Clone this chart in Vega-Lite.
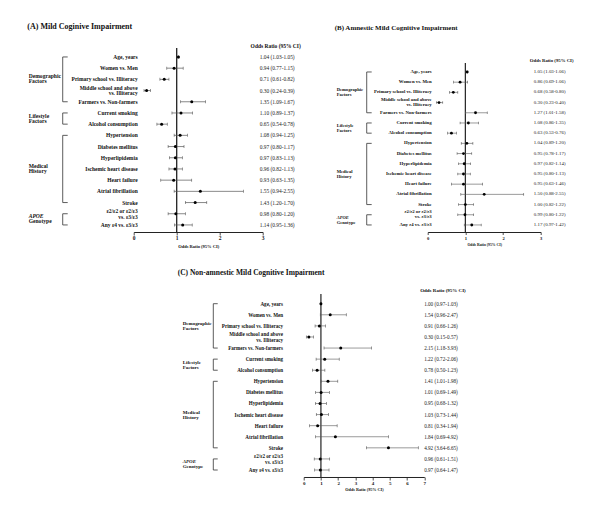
{
"$schema": "https://vega.github.io/schema/vega-lite/v6.json",
"background": "white",
"autosize": {"type": "pad"},
"padding": {"left": 26.7, "top": 22, "right": 5, "bottom": 5},
"columns": 5,
"spacing": {"row": 62, "column": 0},
"bounds": "flush",
"align": "each",
"config": {"view": {"stroke": null}, "text": {"font": "Liberation Serif", "color": "#111"}},
"datasets": {
"groups": [
{"g1": "Demographic", "g2": "Factors", "start": 1, "end": 5, "mid": 3, "it": false},
{"g1": "Lifestyle", "g2": "Factors", "start": 6, "end": 7, "mid": 6.5, "it": false},
{"g1": "Medical", "g2": "History", "start": 8, "end": 14, "mid": 11, "it": false},
{"g1": "APOE", "g2": "Genotype", "start": 15, "end": 16, "mid": 15.5, "it": true}
],
"A": [
{"row": 1, "label": "Age, years", "or": 1.04, "lo": 1.03, "hi": 1.05, "ci": "1.04 (1.03-1.05)"},
{"row": 2, "label": "Women vs. Men", "or": 0.94, "lo": 0.77, "hi": 1.15, "ci": "0.94 (0.77-1.15)"},
{"row": 3, "label": "Primary school vs. Illiteracy", "or": 0.71, "lo": 0.61, "hi": 0.82, "ci": "0.71 (0.61-0.82)"},
{"row": 4, "label": "Middle school and above|vs. Illiteracy", "or": 0.30, "lo": 0.24, "hi": 0.39, "ci": "0.30 (0.24-0.39)"},
{"row": 5, "label": "Farmers vs. Non-farmers", "or": 1.35, "lo": 1.09, "hi": 1.67, "ci": "1.35 (1.09-1.67)"},
{"row": 6, "label": "Current smoking", "or": 1.10, "lo": 0.89, "hi": 1.37, "ci": "1.10 (0.89-1.37)"},
{"row": 7, "label": "Alcohol consumption", "or": 0.65, "lo": 0.54, "hi": 0.78, "ci": "0.65 (0.54-0.78)"},
{"row": 8, "label": "Hypertension", "or": 1.08, "lo": 0.94, "hi": 1.25, "ci": "1.08 (0.94-1.25)"},
{"row": 9, "label": "Diabetes mellitus", "or": 0.97, "lo": 0.80, "hi": 1.17, "ci": "0.97 (0.80-1.17)"},
{"row": 10, "label": "Hyperlipidemia", "or": 0.97, "lo": 0.83, "hi": 1.13, "ci": "0.97 (0.83-1.13)"},
{"row": 11, "label": "Ischemic heart disease", "or": 0.96, "lo": 0.82, "hi": 1.13, "ci": "0.96 (0.82-1.13)"},
{"row": 12, "label": "Heart failure", "or": 0.93, "lo": 0.63, "hi": 1.35, "ci": "0.93 (0.63-1.35)"},
{"row": 13, "label": "Atrial fibrillation", "or": 1.55, "lo": 0.94, "hi": 2.55, "ci": "1.55 (0.94-2.55)"},
{"row": 14, "label": "Stroke", "or": 1.43, "lo": 1.20, "hi": 1.70, "ci": "1.43 (1.20-1.70)"},
{"row": 15, "label": "ε2/ε2 or ε2/ε3|vs. ε3/ε3", "or": 0.98, "lo": 0.80, "hi": 1.20, "ci": "0.98 (0.80-1.20)"},
{"row": 16, "label": "Any ε4 vs. ε3/ε3", "or": 1.14, "lo": 0.95, "hi": 1.36, "ci": "1.14 (0.95-1.36)"}
],
"B": [
{"row": 1, "label": "Age, years", "or": 1.05, "lo": 1.03, "hi": 1.06, "ci": "1.05 (1.03-1.06)"},
{"row": 2, "label": "Women vs. Men", "or": 0.86, "lo": 0.69, "hi": 1.06, "ci": "0.86 (0.69-1.06)"},
{"row": 3, "label": "Primary school vs. Illiteracy", "or": 0.68, "lo": 0.58, "hi": 0.80, "ci": "0.68 (0.58-0.80)"},
{"row": 4, "label": "Middle school and above|vs. Illiteracy", "or": 0.30, "lo": 0.23, "hi": 0.40, "ci": "0.30 (0.23-0.40)"},
{"row": 5, "label": "Farmers vs. Non-farmers", "or": 1.27, "lo": 1.01, "hi": 1.58, "ci": "1.27 (1.01-1.58)"},
{"row": 6, "label": "Current smoking", "or": 1.08, "lo": 0.86, "hi": 1.35, "ci": "1.08 (0.86-1.35)"},
{"row": 7, "label": "Alcohol consumption", "or": 0.63, "lo": 0.53, "hi": 0.76, "ci": "0.63 (0.53-0.76)"},
{"row": 8, "label": "Hypertension", "or": 1.04, "lo": 0.89, "hi": 1.20, "ci": "1.04 (0.89-1.20)"},
{"row": 9, "label": "Diabetes mellitus", "or": 0.95, "lo": 0.78, "hi": 1.17, "ci": "0.95 (0.78-1.17)"},
{"row": 10, "label": "Hyperlipidemia", "or": 0.97, "lo": 0.82, "hi": 1.14, "ci": "0.97 (0.82-1.14)"},
{"row": 11, "label": "Ischemic heart disease", "or": 0.95, "lo": 0.80, "hi": 1.13, "ci": "0.95 (0.80-1.13)"},
{"row": 12, "label": "Heart failure", "or": 0.95, "lo": 0.63, "hi": 1.46, "ci": "0.95 (0.63-1.46)"},
{"row": 13, "label": "Atrial fibrillation", "or": 1.50, "lo": 0.88, "hi": 2.55, "ci": "1.50 (0.88-2.55)"},
{"row": 14, "label": "Stroke", "or": 1.00, "lo": 0.82, "hi": 1.22, "ci": "1.00 (0.82-1.22)"},
{"row": 15, "label": "ε2/ε2 or ε2/ε3|vs. ε3/ε3", "or": 0.99, "lo": 0.80, "hi": 1.22, "ci": "0.99 (0.80-1.22)"},
{"row": 16, "label": "Any ε4 vs. ε3/ε3", "or": 1.17, "lo": 0.97, "hi": 1.42, "ci": "1.17 (0.97-1.42)"}
],
"C": [
{"row": 1, "label": "Age, years", "or": 1.00, "lo": 0.97, "hi": 1.03, "ci": "1.00 (0.97-1.03)"},
{"row": 2, "label": "Women vs. Men", "or": 1.54, "lo": 0.96, "hi": 2.47, "ci": "1.54 (0.96-2.47)"},
{"row": 3, "label": "Primary school vs. Illiteracy", "or": 0.91, "lo": 0.66, "hi": 1.26, "ci": "0.91 (0.66-1.26)"},
{"row": 4, "label": "Middle school and above|vs. Illiteracy", "or": 0.30, "lo": 0.15, "hi": 0.57, "ci": "0.30 (0.15-0.57)"},
{"row": 5, "label": "Farmers vs. Non-farmers", "or": 2.15, "lo": 1.18, "hi": 3.93, "ci": "2.15 (1.18-3.93)"},
{"row": 6, "label": "Current smoking", "or": 1.22, "lo": 0.72, "hi": 2.06, "ci": "1.22 (0.72-2.06)"},
{"row": 7, "label": "Alcohol consumption", "or": 0.78, "lo": 0.50, "hi": 1.23, "ci": "0.78 (0.50-1.23)"},
{"row": 8, "label": "Hypertension", "or": 1.41, "lo": 1.01, "hi": 1.98, "ci": "1.41 (1.01-1.98)"},
{"row": 9, "label": "Diabetes mellitus", "or": 1.01, "lo": 0.69, "hi": 1.49, "ci": "1.01 (0.69-1.49)"},
{"row": 10, "label": "Hyperlipidemia", "or": 0.95, "lo": 0.68, "hi": 1.32, "ci": "0.95 (0.68-1.32)"},
{"row": 11, "label": "Ischemic heart disease", "or": 1.03, "lo": 0.73, "hi": 1.44, "ci": "1.03 (0.73-1.44)"},
{"row": 12, "label": "Heart failure", "or": 0.81, "lo": 0.34, "hi": 1.94, "ci": "0.81 (0.34-1.94)"},
{"row": 13, "label": "Atrial fibrillation", "or": 1.84, "lo": 0.69, "hi": 4.92, "ci": "1.84 (0.69-4.92)"},
{"row": 14, "label": "Stroke", "or": 4.92, "lo": 3.64, "hi": 6.65, "ci": "4.92 (3.64-6.65)"},
{"row": 15, "label": "ε2/ε2 or ε2/ε3|vs. ε3/ε3", "or": 0.96, "lo": 0.61, "hi": 1.51, "ci": "0.96 (0.61-1.51)"},
{"row": 16, "label": "Any ε4 vs. ε3/ε3", "or": 0.97, "lo": 0.64, "hi": 1.47, "ci": "0.97 (0.64-1.47)"}
]
},
"concat": [
{
"width": 129, "height": 184,
"encoding": {
 "x": {"type": "quantitative", "scale": {"domain": [0, 3], "nice": false, "zero": false},
  "axis": {"values": [0, 1, 2, 3], "title": "Odds Ratio (95% CI)", "grid": false, "domainColor": "#222", "domainWidth": 1, "tickColor": "#222", "tickSize": 3, "tickWidth": 0.8, "labelFont": "Liberation Serif", "labelFontWeight": "bold", "labelFontSize": 5.5, "labelPadding": 0.5, "labelColor": "#111", "labelFlush": false, "titleFont": "Liberation Serif", "titleFontWeight": "bold", "titleFontSize": 4.5, "titlePadding": 2.5, "titleColor": "#111"}},
 "y": {"type": "quantitative", "scale": {"domain": [0.2, 16.63], "reverse": true, "nice": false, "zero": false}, "axis": null}
},
"layer": [
{"data": {"values": [{}]}, "mark": {"type": "rule", "color": "#222", "strokeWidth": 1.3},
 "encoding": {"x": {"datum": 1, "type": "quantitative"}, "y": {"datum": 0.2, "type": "quantitative"}, "y2": {"datum": 16.63}}},
{"data": {"name": "A"}, "mark": {"type": "rule", "color": "#555", "strokeWidth": 0.7},
 "encoding": {"x": {"field": "lo", "type": "quantitative"}, "x2": {"field": "hi"}, "y": {"field": "row", "type": "quantitative"}}},
{"data": {"name": "A"}, "mark": {"type": "tick", "orient": "vertical", "size": 3, "thickness": 0.6, "color": "#555", "opacity": 1},
 "encoding": {"x": {"field": "lo", "type": "quantitative"}, "y": {"field": "row", "type": "quantitative"}}},
{"data": {"name": "A"}, "mark": {"type": "tick", "orient": "vertical", "size": 3, "thickness": 0.6, "color": "#555", "opacity": 1},
 "encoding": {"x": {"field": "hi", "type": "quantitative"}, "y": {"field": "row", "type": "quantitative"}}},
{"data": {"name": "A"}, "mark": {"type": "circle", "color": "#000", "size": 9, "opacity": 1},
 "encoding": {"x": {"field": "or", "type": "quantitative"}, "y": {"field": "row", "type": "quantitative"}}},
{"data": {"name": "groups"}, "mark": {"type": "rule", "color": "#333", "strokeWidth": 0.8},
 "encoding": {"x": {"datum": -1.651, "type": "quantitative"}, "y": {"field": "start", "type": "quantitative"}, "y2": {"field": "end"}}},
{"data": {"name": "groups"}, "mark": {"type": "rule", "color": "#333", "strokeWidth": 0.8},
 "encoding": {"x": {"datum": -1.651, "type": "quantitative"}, "x2": {"datum": -1.535}, "y": {"field": "start", "type": "quantitative"}}},
{"data": {"name": "groups"}, "mark": {"type": "rule", "color": "#333", "strokeWidth": 0.8},
 "encoding": {"x": {"datum": -1.651, "type": "quantitative"}, "x2": {"datum": -1.535}, "y": {"field": "end", "type": "quantitative"}}},
{"data": {"name": "groups"}, "transform": [{"filter": "!datum.it"}], "mark": {"type": "text", "align": "left", "baseline": "bottom", "fontWeight": "bold", "fontSize": 5.6},
 "encoding": {"x": {"datum": -2.442, "type": "quantitative"}, "y": {"field": "mid", "type": "quantitative"}, "text": {"field": "g1"}}},
{"data": {"name": "groups"}, "transform": [{"filter": "datum.it"}], "mark": {"type": "text", "align": "left", "baseline": "bottom", "fontWeight": "bold", "fontStyle": "italic", "fontSize": 5.6},
 "encoding": {"x": {"datum": -2.442, "type": "quantitative"}, "y": {"field": "mid", "type": "quantitative"}, "text": {"field": "g1"}}},
{"data": {"name": "groups"}, "mark": {"type": "text", "align": "left", "baseline": "top", "fontWeight": "bold", "fontSize": 5.6},
 "encoding": {"x": {"datum": -2.442, "type": "quantitative"}, "y": {"field": "mid", "type": "quantitative"}, "text": {"field": "g2"}}},
{"data": {"name": "A"}, "transform": [{"filter": "indexof(datum.label, '|') < 0"}], "mark": {"type": "text", "align": "right", "baseline": "middle", "fontWeight": "bold", "fontSize": 5.5},
 "encoding": {"x": {"datum": 0.093, "type": "quantitative"}, "y": {"field": "row", "type": "quantitative"}, "text": {"field": "label"}}},
{"data": {"name": "A"}, "transform": [{"filter": "indexof(datum.label, '|') >= 0"}], "mark": {"type": "text", "align": "right", "baseline": "middle", "fontWeight": "bold", "fontSize": 5.5, "lineBreak": "|", "lineHeight": 5.8, "dy": -2.9},
 "encoding": {"x": {"datum": 0.093, "type": "quantitative"}, "y": {"field": "row", "type": "quantitative"}, "text": {"field": "label"}}},
{"data": {"values": [{"t": "(A)  Mild Coginive Impairment"}]}, "mark": {"type": "text", "align": "left", "baseline": "middle", "fontWeight": "bold", "fontSize": 8},
 "encoding": {"x": {"datum": -2.474, "type": "quantitative"}, "y": {"datum": -1.68, "type": "quantitative"}, "text": {"field": "t"}}},
{"data": {"name": "A"}, "mark": {"type": "text", "align": "center", "baseline": "middle", "fontSize": 5.4, "color": "#222"},
 "encoding": {"x": {"datum": 3.337, "type": "quantitative"}, "y": {"field": "row", "type": "quantitative"}, "text": {"field": "ci"}}},
{"data": {"values": [{"t": "Odds Ratio (95% CI)"}]}, "mark": {"type": "text", "align": "center", "baseline": "middle", "fontSize": 5.5, "fontWeight": "bold"},
 "encoding": {"x": {"datum": 3.302, "type": "quantitative"}, "y": {"datum": 0, "type": "quantitative"}, "text": {"field": "t"}}}
]
},
{"width": 40.7, "height": 10, "data": {"values": [{}]}, "mark": {"type": "point", "opacity": 0}, "encoding": {}},
{"width": 120.6, "height": 10, "data": {"values": [{}]}, "mark": {"type": "point", "opacity": 0}, "encoding": {}},
{"width": 2.7, "height": 10, "data": {"values": [{}]}, "mark": {"type": "point", "opacity": 0}, "encoding": {}},
{
"width": 113, "height": 184,
"encoding": {
 "x": {"type": "quantitative", "scale": {"domain": [0, 3], "nice": false, "zero": false},
  "axis": {"values": [0, 1, 2, 3], "title": "Odds Ratio (95% CI)", "grid": false, "domainColor": "#222", "domainWidth": 1, "tickColor": "#222", "tickSize": 2.5, "tickWidth": 0.8, "labelFont": "Liberation Serif", "labelFontWeight": "bold", "labelFontSize": 4.6, "labelPadding": 0.5, "labelColor": "#111", "labelFlush": false, "titleFont": "Liberation Serif", "titleFontWeight": "bold", "titleFontSize": 3.8, "titlePadding": 2.5, "titleColor": "#111"}},
 "y": {"type": "quantitative", "scale": {"domain": [-1.35, 16.69], "reverse": true, "nice": false, "zero": false}, "axis": null}
},
"layer": [
{"data": {"values": [{}]}, "mark": {"type": "rule", "color": "#222", "strokeWidth": 1.2},
 "encoding": {"x": {"datum": 1, "type": "quantitative"}, "y": {"datum": 0.12, "type": "quantitative"}, "y2": {"datum": 16.69}}},
{"data": {"name": "B"}, "mark": {"type": "rule", "color": "#555", "strokeWidth": 0.6},
 "encoding": {"x": {"field": "lo", "type": "quantitative"}, "x2": {"field": "hi"}, "y": {"field": "row", "type": "quantitative"}}},
{"data": {"name": "B"}, "mark": {"type": "tick", "orient": "vertical", "size": 2.6, "thickness": 0.6, "color": "#555", "opacity": 1},
 "encoding": {"x": {"field": "lo", "type": "quantitative"}, "y": {"field": "row", "type": "quantitative"}}},
{"data": {"name": "B"}, "mark": {"type": "tick", "orient": "vertical", "size": 2.6, "thickness": 0.6, "color": "#555", "opacity": 1},
 "encoding": {"x": {"field": "hi", "type": "quantitative"}, "y": {"field": "row", "type": "quantitative"}}},
{"data": {"name": "B"}, "mark": {"type": "circle", "color": "#000", "size": 8, "opacity": 1},
 "encoding": {"x": {"field": "or", "type": "quantitative"}, "y": {"field": "row", "type": "quantitative"}}},
{"data": {"name": "groups"}, "mark": {"type": "rule", "color": "#333", "strokeWidth": 0.8},
 "encoding": {"x": {"datum": -1.619, "type": "quantitative"}, "y": {"field": "start", "type": "quantitative"}, "y2": {"field": "end"}}},
{"data": {"name": "groups"}, "mark": {"type": "rule", "color": "#333", "strokeWidth": 0.8},
 "encoding": {"x": {"datum": -1.619, "type": "quantitative"}, "x2": {"datum": -1.487}, "y": {"field": "start", "type": "quantitative"}}},
{"data": {"name": "groups"}, "mark": {"type": "rule", "color": "#333", "strokeWidth": 0.8},
 "encoding": {"x": {"datum": -1.619, "type": "quantitative"}, "x2": {"datum": -1.487}, "y": {"field": "end", "type": "quantitative"}}},
{"data": {"name": "groups"}, "transform": [{"filter": "!datum.it"}], "mark": {"type": "text", "align": "left", "baseline": "bottom", "fontWeight": "bold", "fontSize": 4.6},
 "encoding": {"x": {"datum": -2.416, "type": "quantitative"}, "y": {"field": "mid", "type": "quantitative"}, "text": {"field": "g1"}}},
{"data": {"name": "groups"}, "transform": [{"filter": "datum.it"}], "mark": {"type": "text", "align": "left", "baseline": "bottom", "fontWeight": "bold", "fontStyle": "italic", "fontSize": 4.6},
 "encoding": {"x": {"datum": -2.416, "type": "quantitative"}, "y": {"field": "mid", "type": "quantitative"}, "text": {"field": "g1"}}},
{"data": {"name": "groups"}, "mark": {"type": "text", "align": "left", "baseline": "top", "fontWeight": "bold", "fontSize": 4.6},
 "encoding": {"x": {"datum": -2.416, "type": "quantitative"}, "y": {"field": "mid", "type": "quantitative"}, "text": {"field": "g2"}}},
{"data": {"name": "B"}, "transform": [{"filter": "indexof(datum.label, '|') < 0"}], "mark": {"type": "text", "align": "right", "baseline": "middle", "fontWeight": "bold", "fontSize": 4.8},
 "encoding": {"x": {"datum": 0.106, "type": "quantitative"}, "y": {"field": "row", "type": "quantitative"}, "text": {"field": "label"}}},
{"data": {"name": "B"}, "transform": [{"filter": "indexof(datum.label, '|') >= 0"}], "mark": {"type": "text", "align": "right", "baseline": "middle", "fontWeight": "bold", "fontSize": 4.8, "lineBreak": "|", "lineHeight": 5.1, "dy": -2.55},
 "encoding": {"x": {"datum": 0.106, "type": "quantitative"}, "y": {"field": "row", "type": "quantitative"}, "text": {"field": "label"}}},
{"data": {"values": [{"t": "(B)  Amnestic Mild Cognitive Impairment"}]}, "mark": {"type": "text", "align": "left", "baseline": "middle", "fontWeight": "bold", "fontSize": 7},
 "encoding": {"x": {"datum": -2.469, "type": "quantitative"}, "y": {"datum": -3.31, "type": "quantitative"}, "text": {"field": "t"}}},
{"data": {"name": "B"}, "mark": {"type": "text", "align": "center", "baseline": "middle", "fontSize": 4.9, "color": "#222"},
 "encoding": {"x": {"datum": 3.239, "type": "quantitative"}, "y": {"field": "row", "type": "quantitative"}, "text": {"field": "ci"}}},
{"data": {"values": [{"t": "Odds Ratio (95% CI)"}]}, "mark": {"type": "text", "align": "center", "baseline": "middle", "fontSize": 4.8, "fontWeight": "bold"},
 "encoding": {"x": {"datum": 3.292, "type": "quantitative"}, "y": {"datum": -0.08, "type": "quantitative"}, "text": {"field": "t"}}}
]
},
{"width": 1, "height": 10, "data": {"values": [{}]}, "mark": {"type": "point", "opacity": 0}, "encoding": {}},
{"width": 1, "height": 10, "data": {"values": [{}]}, "mark": {"type": "point", "opacity": 0}, "encoding": {}},
{
"width": 120.6, "height": 183,
"encoding": {
 "x": {"type": "quantitative", "scale": {"domain": [0, 7], "nice": false, "zero": false},
  "axis": {"values": [0, 1, 2, 3, 4, 5, 6, 7], "title": "Odds Ratio (95% CI)", "grid": false, "domainColor": "#222", "domainWidth": 1, "tickColor": "#222", "tickSize": 3, "tickWidth": 0.8, "labelFont": "Liberation Serif", "labelFontWeight": "bold", "labelFontSize": 5, "labelPadding": 0.5, "labelColor": "#111", "labelFlush": false, "titleFont": "Liberation Serif", "titleFontWeight": "bold", "titleFontSize": 4.2, "titlePadding": 2.5, "titleColor": "#111"}},
 "y": {"type": "quantitative", "scale": {"domain": [0.125, 16.63], "reverse": true, "nice": false, "zero": false}, "axis": null}
},
"layer": [
{"data": {"values": [{}]}, "mark": {"type": "rule", "color": "#222", "strokeWidth": 1.2},
 "encoding": {"x": {"datum": 1, "type": "quantitative"}, "y": {"datum": 0.125, "type": "quantitative"}, "y2": {"datum": 16.63}}},
{"data": {"name": "C"}, "mark": {"type": "rule", "color": "#555", "strokeWidth": 0.6},
 "encoding": {"x": {"field": "lo", "type": "quantitative"}, "x2": {"field": "hi"}, "y": {"field": "row", "type": "quantitative"}}},
{"data": {"name": "C"}, "mark": {"type": "tick", "orient": "vertical", "size": 3, "thickness": 0.6, "color": "#555", "opacity": 1},
 "encoding": {"x": {"field": "lo", "type": "quantitative"}, "y": {"field": "row", "type": "quantitative"}}},
{"data": {"name": "C"}, "mark": {"type": "tick", "orient": "vertical", "size": 3, "thickness": 0.6, "color": "#555", "opacity": 1},
 "encoding": {"x": {"field": "hi", "type": "quantitative"}, "y": {"field": "row", "type": "quantitative"}}},
{"data": {"name": "C"}, "mark": {"type": "circle", "color": "#000", "size": 9, "opacity": 1},
 "encoding": {"x": {"field": "or", "type": "quantitative"}, "y": {"field": "row", "type": "quantitative"}}},
{"data": {"name": "groups"}, "mark": {"type": "rule", "color": "#333", "strokeWidth": 0.8},
 "encoding": {"x": {"datum": -5.247, "type": "quantitative"}, "y": {"field": "start", "type": "quantitative"}, "y2": {"field": "end"}}},
{"data": {"name": "groups"}, "mark": {"type": "rule", "color": "#333", "strokeWidth": 0.8},
 "encoding": {"x": {"datum": -5.247, "type": "quantitative"}, "x2": {"datum": -4.991}, "y": {"field": "start", "type": "quantitative"}}},
{"data": {"name": "groups"}, "mark": {"type": "rule", "color": "#333", "strokeWidth": 0.8},
 "encoding": {"x": {"datum": -5.247, "type": "quantitative"}, "x2": {"datum": -4.991}, "y": {"field": "end", "type": "quantitative"}}},
{"data": {"name": "groups"}, "transform": [{"filter": "!datum.it"}], "mark": {"type": "text", "align": "left", "baseline": "bottom", "fontWeight": "bold", "fontSize": 5.0},
 "encoding": {"x": {"datum": -7.023, "type": "quantitative"}, "y": {"field": "mid", "type": "quantitative"}, "text": {"field": "g1"}}},
{"data": {"name": "groups"}, "transform": [{"filter": "datum.it"}], "mark": {"type": "text", "align": "left", "baseline": "bottom", "fontWeight": "bold", "fontStyle": "italic", "fontSize": 5.0},
 "encoding": {"x": {"datum": -7.023, "type": "quantitative"}, "y": {"field": "mid", "type": "quantitative"}, "text": {"field": "g1"}}},
{"data": {"name": "groups"}, "mark": {"type": "text", "align": "left", "baseline": "top", "fontWeight": "bold", "fontSize": 5.0},
 "encoding": {"x": {"datum": -7.023, "type": "quantitative"}, "y": {"field": "mid", "type": "quantitative"}, "text": {"field": "g2"}}},
{"data": {"name": "C"}, "transform": [{"filter": "indexof(datum.label, '|') < 0"}], "mark": {"type": "text", "align": "right", "baseline": "middle", "fontWeight": "bold", "fontSize": 5.1},
 "encoding": {"x": {"datum": -1.201, "type": "quantitative"}, "y": {"field": "row", "type": "quantitative"}, "text": {"field": "label"}}},
{"data": {"name": "C"}, "transform": [{"filter": "indexof(datum.label, '|') >= 0"}], "mark": {"type": "text", "align": "right", "baseline": "middle", "fontWeight": "bold", "fontSize": 5.1, "lineBreak": "|", "lineHeight": 5.5, "dy": -2.75},
 "encoding": {"x": {"datum": -1.201, "type": "quantitative"}, "y": {"field": "row", "type": "quantitative"}, "text": {"field": "label"}}},
{"data": {"values": [{"t": "(C)  Non-amnestic Mild Cognitive Impairment"}]}, "mark": {"type": "text", "align": "left", "baseline": "middle", "fontWeight": "bold", "fontSize": 7.5},
 "encoding": {"x": {"datum": -7.313, "type": "quantitative"}, "y": {"datum": -1.795, "type": "quantitative"}, "text": {"field": "t"}}},
{"data": {"name": "C"}, "mark": {"type": "text", "align": "center", "baseline": "middle", "fontSize": 5.2, "color": "#222"},
 "encoding": {"x": {"datum": 7.969, "type": "quantitative"}, "y": {"field": "row", "type": "quantitative"}, "text": {"field": "ci"}}},
{"data": {"values": [{"t": "Odds Ratio (95% CI)"}]}, "mark": {"type": "text", "align": "center", "baseline": "middle", "fontSize": 5.0, "fontWeight": "bold"},
 "encoding": {"x": {"datum": 8.085, "type": "quantitative"}, "y": {"datum": -0.235, "type": "quantitative"}, "text": {"field": "t"}}}
]
}
]
}
